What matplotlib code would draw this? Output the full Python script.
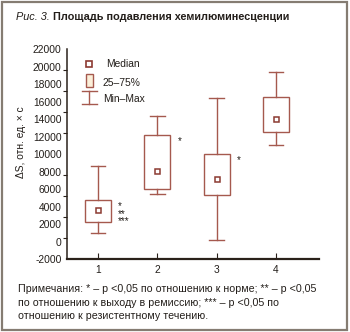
import matplotlib
matplotlib.use("Agg")
import matplotlib.pyplot as plt
from matplotlib.patches import Rectangle
from matplotlib.lines import Line2D
import numpy as np

plt.rcParams['font.family'] = ['Liberation Sans', 'DejaVu Sans']

# Chemiluminescence suppression area per group
groups = ['1', '2', '3', '4']
whisker_min = [1000, 5400, 200, 11000]
q1 = [2250, 6000, 5300, 12500]
median = [3600, 8100, 7200, 14000]
q3 = [4700, 12200, 10000, 16500]
whisker_max = [8600, 14300, 16400, 19400]
significance = [['*', '**', '***'], ['*'], ['*'], []]

y_ticks = list(range(-2000, 22001, 2000))

title_italic = 'Рис. 3.'
title_bold = 'Площадь подавления хемилюминесценции'
y_label = 'ΔS, отн. ед. × с'
legend_labels = ['Median', '25–75%', 'Min–Max']
note_lines = [
    'Примечания: * – p <0,05 по отношению к норме; ** – p <0,05',
    'по отношению к выходу в ремиссию; *** – p <0,05 по',
    'отношению к резистентному течению.',
]

BOX = '#a5594e'
MED = '#8c3a31'
INK = '#231e1a'
SPINE = '#2a211a'
FILL_LEG = '#fbefd9'

fig = plt.figure(figsize=(3.5, 3.32), dpi=100)
fig.patch.set_facecolor('white')
W, H = 350, 332
AW, AH = 252, 210

ax = fig.add_axes([67 / W, 1 - 259 / H, AW / W, AH / H])
ax.set_facecolor('white')

positions = np.arange(1, len(groups) + 1)
stats = []
for i in range(len(groups)):
    stats.append(dict(med=median[i], q1=q1[i], q3=q3[i],
                      whislo=whisker_min[i], whishi=whisker_max[i],
                      fliers=[]))

box_w = 0.44
ax.bxp(stats, positions=positions, widths=box_w, showfliers=False,
       patch_artist=True, capwidths=0.25,
       boxprops=dict(facecolor='white', edgecolor=BOX, linewidth=1.0),
       whiskerprops=dict(color=BOX, linewidth=1.0),
       capprops=dict(color=BOX, linewidth=1.0),
       medianprops=dict(linewidth=0))
ax.plot(positions, median, linestyle='none', marker='s', markersize=3.6,
        markerfacecolor='white', markeredgecolor=MED, markeredgewidth=1.1,
        zorder=5)

# significance marks next to the upper quartile of each box
for i, marks in enumerate(significance):
    if not marks:
        continue
    ax.annotate('\n'.join(marks), xy=(positions[i] + box_w / 2, q3[i]),
                xytext=(7, -1), textcoords='offset pixels',
                fontsize=7, linespacing=0.68, color=INK,
                ha='left', va='top', multialignment='left')

ax.set_xlim(0.477, 4.725)
ax.set_ylim(-2000, 22000)
ax.set_xticks(positions)
ax.set_xticklabels(groups)
ax.set_yticks(y_ticks)
ax.set_yticklabels([str(v) for v in y_ticks])
ax.set_yticks(np.linspace(-2000, 22000, 11)[1:-1], minor=True)

ax.tick_params(axis='y', which='major', length=0, pad=4, labelsize=7.4,
               labelcolor=INK)
ax.tick_params(axis='y', which='minor', length=3, width=0.8, color=SPINE,
               direction='out')
ax.tick_params(axis='x', which='major', length=4, width=0.8, color=SPINE,
               direction='in', pad=4, labelsize=7.4, labelcolor=INK)

for s in ['top', 'right']:
    ax.spines[s].set_visible(False)
ax.spines['left'].set_color(SPINE)
ax.spines['left'].set_linewidth(1.1)
ax.spines['bottom'].set_color(SPINE)
ax.spines['bottom'].set_linewidth(1.6)

# hand-made legend in the upper left corner (axes pixel units)
tr = ax.transAxes
def fx(px):
    return px / AW
def fy(py):
    return (259 - py) / AH

ax.plot([fx(22.3)], [fy(64)], marker='s', markersize=4.2,
        markerfacecolor='white', markeredgecolor=MED, markeredgewidth=1.2,
        transform=tr, clip_on=False)
ax.text(fx(39), fy(64), legend_labels[0], transform=tr,
        fontsize=7.4, color=INK, va='center', ha='left')
ax.add_patch(Rectangle((fx(19), fy(87.3)), fx(6.7), 13.3 / AH,
                       transform=tr, facecolor=FILL_LEG, edgecolor=BOX,
                       linewidth=1.0, clip_on=False))
ax.text(fx(35.7), fy(82.7), legend_labels[1],
        transform=tr, fontsize=7.4, color=INK, va='center', ha='left')
cx = fx(22.3)
for yy in (90.7, 104):
    ax.add_line(Line2D([fx(14.7), fx(29.7)], [fy(yy)] * 2,
                       transform=tr, color=BOX, linewidth=1.0, clip_on=False))
ax.add_line(Line2D([cx, cx], [fy(90.7), fy(104)],
                   transform=tr, color=BOX, linewidth=1.0, clip_on=False))
ax.text(fx(35.7), fy(99.3), legend_labels[2], transform=tr,
        fontsize=7.4, color=INK, va='center', ha='left')

# title: italic figure number followed by bold caption
t1 = fig.text(16 / W, 1 - 17 / H, title_italic, fontsize=7.8, style='italic',
              color=INK, va='center', ha='left')
fig.canvas.draw()
bb = t1.get_window_extent()
fig.text((bb.x1 + 3) / W, 1 - 17 / H, title_bold, fontsize=7.8,
         fontweight='bold', color=INK, va='center', ha='left')

fig.text(20.7 / W, 1 - 142.5 / H, y_label, rotation=90, fontsize=7.4,
         color=INK, va='center', ha='center')

for k, line in enumerate(note_lines):
    fig.text(18 / W, 1 - (289 + k * 13.6) / H, line, fontsize=7.7,
             color=INK, va='center', ha='left')

# figure frame
fig.add_artist(Rectangle((2 / W, 2 / H), 345 / W, 328 / H,
                         transform=fig.transFigure, facecolor='none',
                         edgecolor='#857c72', linewidth=1.6))

fig.savefig('out.png', dpi=100, facecolor='white')
